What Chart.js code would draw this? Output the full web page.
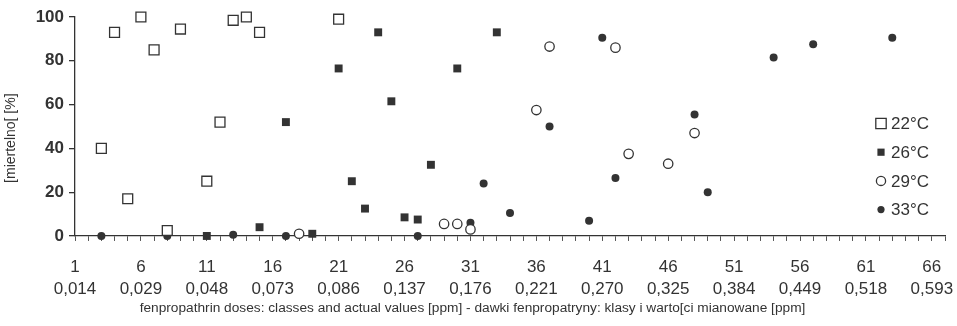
<!DOCTYPE html>
<html><head><meta charset="utf-8">
<script src="https://cdn.jsdelivr.net/npm/chart.js@4.4.0/dist/chart.umd.min.js"></script>
<style>html,body{margin:0;padding:0;background:#fff}#wrap{width:957px;height:326px;position:relative}</style>
</head><body><div id="wrap"><canvas id="c" width="957" height="326"></canvas></div>
<script>
// ---- data ----
const seriesNames = ['22°C', '26°C', '29°C', '33°C'];
const x22 = [3, 4, 5, 6, 7, 8, 9, 11, 12, 13, 14, 15, 21];
const y22 = [40, 93, 17, 100, 85, 2.5, 94.5, 25, 52, 98.5, 100, 93, 99];
const x26 = [11, 15, 17, 19, 21, 22, 23, 24, 25, 26, 27, 28, 30, 33];
const y26 = [0, 4, 52, 1, 76.5, 25, 12.5, 93, 61.5, 8.5, 7.5, 32.5, 76.5, 93];
const x29 = [18, 29, 30, 31, 36, 37, 42, 43, 46, 48];
const y29 = [1, 5.5, 5.5, 3, 57.5, 86.5, 86, 37.5, 33, 47];
const x33 = [3, 8, 13, 17, 27, 31, 32, 34, 37, 40, 41, 42, 48, 49, 54, 57, 63];
const y33 = [0, 0, 0.5, 0, 0, 6, 24, 10.5, 50, 7, 90.5, 26.5, 55.5, 20, 81.5, 87.5, 90.5];
const classTicks = [1, 6, 11, 16, 21, 26, 31, 36, 41, 46, 51, 56, 61, 66];
const classLabels = ['1', '6', '11', '16', '21', '26', '31', '36', '41', '46', '51', '56', '61', '66'];
const doseLabels = ['0,014', '0,029', '0,048', '0,073', '0,086', '0,137', '0,176', '0,221', '0,270', '0,325', '0,384', '0,449', '0,518', '0,593'];
const yTicks = [0, 20, 40, 60, 80, 100];
const xTitle = 'fenpropathrin doses: classes and actual values [ppm] - dawki fenpropatryny: klasy i warto[ci mianowane [ppm]';
const yTitle = '[miertelno[ [%]';

// ---- styling ----
const INK = '#333333';
const FONT = "'Liberation Sans', Arial, sans-serif";
const pts = (xs, ys) => xs.map((v, i) => ({x: v, y: ys[i]}));

const datasets = [
  {label: seriesNames[0], data: pts(x22, y22), pointStyle: 'rect', pointRadius: 7, backgroundColor: '#ffffff', borderColor: INK, borderWidth: 1.3},
  {label: seriesNames[1], data: pts(x26, y26), pointStyle: 'rect', pointRadius: 5.6, backgroundColor: INK, borderColor: INK, borderWidth: 0},
  {label: seriesNames[2], data: pts(x29, y29), pointStyle: 'circle', pointRadius: 4.7, backgroundColor: '#ffffff', borderColor: INK, borderWidth: 1.3},
  {label: seriesNames[3], data: pts(x33, y33), pointStyle: 'circle', pointRadius: 4, backgroundColor: INK, borderColor: INK, borderWidth: 0}
].map(d => Object.assign(d, {showLine: false, clip: false, pointHoverRadius: d.pointRadius}));

const legendIn = {
  id: 'legendIn',
  afterDraw(chart) {
    const ctx = chart.ctx;
    ctx.save();
    ctx.font = '17px ' + FONT;
    ctx.textBaseline = 'middle';
    ctx.textAlign = 'left';
    const legendR = [5.2, 3.6, 4.6, 3.6];
    chart.data.datasets.forEach((ds, i) => {
      const cx = 881, cy = 123.5 + i * 28.7;
      const r = legendR[i];
      ctx.beginPath();
      if (ds.pointStyle === 'rect') ctx.rect(cx - r, cy - r, 2 * r, 2 * r);
      else ctx.arc(cx, cy, r, 0, Math.PI * 2);
      ctx.fillStyle = ds.backgroundColor;
      ctx.fill();
      if (ds.borderWidth) { ctx.lineWidth = ds.borderWidth; ctx.strokeStyle = ds.borderColor; ctx.stroke(); }
      ctx.fillStyle = INK;
      ctx.fillText(ds.label, 891, cy + 1);
    });
    ctx.restore();
  }
};

new Chart(document.getElementById('c'), {
  type: 'scatter',
  data: {datasets},
  plugins: [legendIn],
  options: {
    responsive: false,
    animation: false,
    layout: {padding: {left: 0, right: 12, top: 17, bottom: 0}},
    plugins: {
      legend: {display: false},
      tooltip: {enabled: false},
      title: {display: true, position: 'bottom', text: xTitle, color: INK, font: {family: FONT, size: 13.7, weight: 'normal', lineHeight: 1.2}, padding: {top: 0, bottom: 9.3}}
    },
    scales: {
      x: {
        type: 'linear', position: 'bottom', min: 1, max: 67,
        afterBuildTicks: s => { const t = []; for (let v = 1; v <= 67; v++) t.push({value: v}); s.ticks = t; },
        ticks: {
          autoSkip: false, maxRotation: 0, minRotation: 0, padding: 15, color: INK,
          font: {family: FONT, size: 17, lineHeight: 1.3},
          callback: v => { const i = classTicks.indexOf(v); return i < 0 ? '' : [classLabels[i], doseLabels[i]]; }
        },
        grid: {display: true, drawOnChartArea: false, drawTicks: true, tickLength: 5, color: '#555555', lineWidth: 1},
        border: {display: true, color: INK, width: 1.3},
        afterFit: s => { s.paddingLeft = 0; s.paddingRight = 0; s.height = 64.3; }
      },
      y: {
        type: 'linear', min: 0, max: 100,
        afterBuildTicks: s => { s.ticks = yTicks.map(v => ({value: v})); },
        ticks: {color: INK, font: {family: FONT, size: 17, weight: 'bold'}, padding: 5},
        grid: {display: true, drawOnChartArea: false, tickLength: 6, color: INK, lineWidth: 1.3},
        border: {display: true, color: INK, width: 1.3},
        title: {display: true, text: yTitle + '\u00a0\u00a0\u00a0\u00a0\u00a0\u00a0', color: INK, font: {family: FONT, size: 14}, padding: {top: 3, bottom: 0}},
        afterFit: s => { s.width = 75; s.paddingTop = 0; s.paddingBottom = 0; }
      }
    }
  }
});
</script>
</body></html>
